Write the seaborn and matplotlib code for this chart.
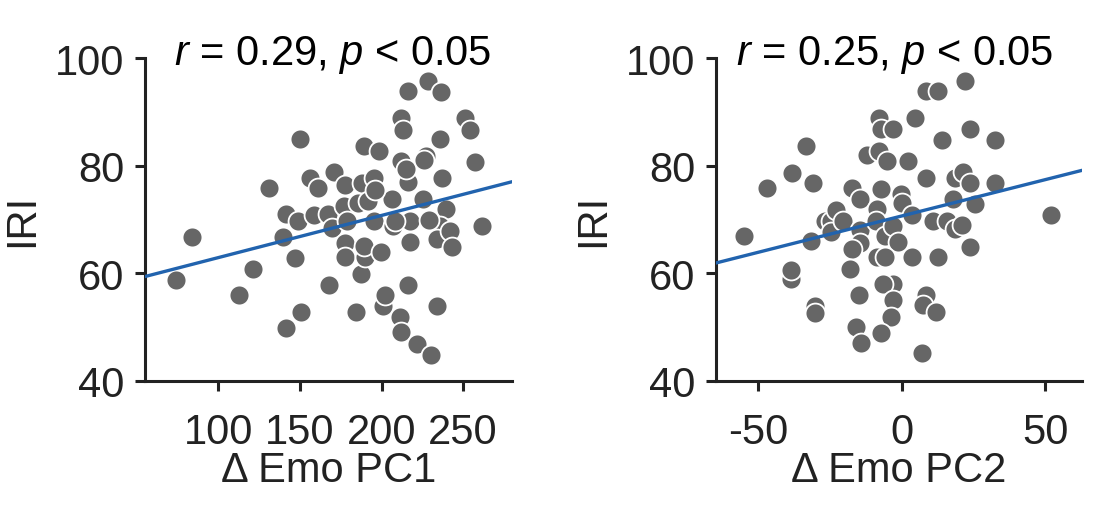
import numpy as np
import pandas as pd
import seaborn as sns
import matplotlib
matplotlib.use("Agg")
import matplotlib.pyplot as plt

# ---- data ----
pc1 = [73.7, 84, 112.5, 121.3, 131, 149.8, 139.5, 141.7, 149, 147,
       150.4, 141.7, 156, 161, 158.8, 166.9, 170.6, 169.7, 167.5, 176.8,
       177.9, 177.9, 177.4, 179, 185.5, 188, 189.3, 192, 195.4, 187.3,
       190, 189, 199.8, 198.7, 195.4, 184.4, 200.9, 202, 206.4, 207,
       211.8, 213, 211.8, 216.2, 215, 216.2, 217.3, 217.3, 216.2, 211.4,
       211.8, 221.7, 230.5, 228.3, 236.4, 227.2, 235.9, 225.4, 237, 239.3,
       235.9, 233.8, 229.4, 242, 243, 233.8, 251.3, 254, 257.2, 261.8,
       208.5, 196, 226]
iri1 = [58.8, 66.8, 55.9, 60.8, 75.8, 84.9, 66.7, 71, 69.8, 62.8,
        52.8, 49.8, 77.8, 75.8, 70.9, 71, 78.9, 68.5, 57.8, 72.5,
        65.7, 76.5, 63, 69.8, 73, 76.7, 83.6, 73.5, 77.7, 59.9,
        63, 65.1, 63.9, 82.7, 69.8, 52.8, 54, 55.9, 73.9, 68.8,
        88.9, 86.7, 80.9, 76.9, 79.3, 93.8, 69.8, 65.9, 57.8, 51.9,
        49.1, 46.9, 44.9, 95.7, 93.7, 81.8, 84.9, 73.9, 77.8, 71.9,
        68.8, 66.4, 70, 67.9, 64.8, 54, 88.9, 86.7, 80.7, 68.7,
        69.8, 75.5, 81]

pc2 = [-54.7, -46.9, -38.1, -33.4, -30.8, -31.6, -38.6, -38.6, -30.2, -30.2,
       -26.7, -24.4, -22.9, -24.4, -20.3, -17.2, -14.5, -14.5, -14.5, -17.4,
       -17.8, -14.8, -15.9, -14, -12, -8.7, -7.8, -7.8, -7, -2.9,
       -5.2, -7, -9, -5.8, -2.9, -1.4, -8.7, -5.8, -2.9, -6.4,
       -2.9, -3.8, -7, -0.3, 0, 2.3, 3.5, 3.5, 4.7, 8.4,
       8.4, 12.8, 11, 12.7, 8.4, 7.6, 12, 7.1, 14, 15.7,
       18.6, 17.8, 18.6, 21.5, 23.8, 22.1, 23.8, 20.9, 25.6, 23.8,
       32.6, 32.6, 52]
iri2 = [67, 75.9, 78.6, 83.7, 76.7, 66, 59, 60.6, 54, 52.6,
        69.7, 69.7, 71.7, 67.7, 69.8, 75.8, 73.8, 68, 65.7, 64.6,
        60.8, 56, 50, 47.1, 82, 72, 82.8, 88.9, 86.8, 86.8,
        80.9, 75.7, 69.8, 67, 68.7, 65.8, 63, 63, 58, 58,
        55.1, 51.9, 48.9, 74.8, 73.1, 80.9, 70.9, 63.1, 88.8, 77.8,
        93.8, 93.8, 69.8, 63, 56, 54.2, 52.9, 45.2, 84.8, 69.8,
        68.3, 73.8, 77.8, 78.8, 76.7, 95.7, 86.8, 68.9, 72.9, 64.9,
        84.8, 76.7, 70.9]

titles = ["$r$ = 0.29, $p$ < 0.05", "$r$ = 0.25, $p$ < 0.05"]
xlabels = ["Δ Emo PC1", "Δ Emo PC2"]
ylabel = "IRI"
xticks1 = [100, 150, 200, 250]
xticks2 = [-50, 0, 50]
yticks = [40, 60, 80, 100]

df1 = pd.DataFrame({"x": pc1, "y": iri1})
df2 = pd.DataFrame({"x": pc2, "y": iri2})

sns.set_theme(style="ticks")
plt.rcParams["font.family"] = ["Liberation Sans", "DejaVu Sans"]
plt.rcParams["mathtext.fontset"] = "custom"
plt.rcParams["mathtext.rm"] = "Liberation Sans"
plt.rcParams["mathtext.it"] = "Liberation Sans:italic"
plt.rcParams["axes.unicode_minus"] = False

FS = 30
TXT = "#222222"
fig = plt.figure(figsize=(11.13, 5.10), dpi=100)
ax1 = fig.add_axes([145 / 1113, 128 / 510, 367 / 1113, 323 / 510])
ax2 = fig.add_axes([716 / 1113, 128 / 510, 366 / 1113, 323 / 510])

panels = [
    (ax1, df1, (55, 280), xticks1, titles[0], xlabels[0], 0.512),
    (ax2, df2, (-64.6, 62.8), xticks2, titles[1], xlabels[1], 0.489),
]

for ax, df, xl, xt, ttl, xlab, tx in panels:
    ax.set_xlim(*xl)
    ax.set_ylim(40, 100)
    sns.regplot(data=df, x="x", y="y", ax=ax, ci=None, truncate=False,
                scatter_kws=dict(s=205, color="#666666", edgecolor="white",
                                 linewidths=1.3, alpha=1, zorder=2),
                line_kws=dict(color="#2163ae", lw=2.4, zorder=3))
    ax.set_xlim(*xl)
    ax.set_ylim(40, 100)
    ax.set_xticks(xt)
    ax.set_yticks(yticks)
    sns.despine(ax=ax)
    for s in ["left", "bottom"]:
        ax.spines[s].set_linewidth(2.2)
        ax.spines[s].set_color(TXT)
    ax.tick_params(axis="both", length=7, width=2.2, color=TXT,
                   labelsize=FS, labelcolor=TXT)
    ax.tick_params(axis="x", pad=15)
    ax.tick_params(axis="y", pad=8)
    ax.set_xlabel(xlab, fontsize=FS, color=TXT)
    ax.set_ylabel(ylabel, fontsize=FS, color=TXT)
    ax.xaxis.set_label_coords(0.5, -0.215)
    ax.yaxis.set_label_coords(-0.28, 0.5)
    ax.text(tx, 0.981, ttl, transform=ax.transAxes, ha="center",
            va="baseline", fontsize=FS, color="black")

fig.savefig("out.png", dpi=100)
